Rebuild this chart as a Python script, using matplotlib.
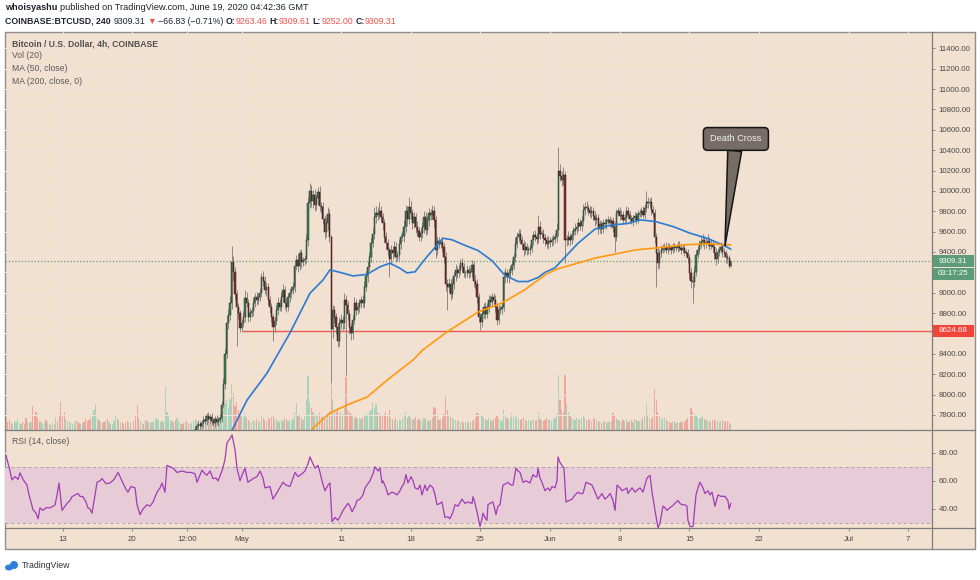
import numpy as np
import pandas as pd
import matplotlib
matplotlib.use("Agg")
import matplotlib.pyplot as plt
import matplotlib.dates as mdates
from matplotlib.patches import Rectangle, Ellipse
from matplotlib.lines import Line2D
from matplotlib.transforms import blended_transform_factory

plt.rcParams['font.family'] = ['Liberation Sans', 'DejaVu Sans']

# ---------------- data ----------------
candle_start = '2020-04-07 08:00'   # 4h candles
first_open = 7380.0
closes = [
    7330, 7270, 7210, 7180,                      # Apr 7
    7220, 7280, 7300, 7330, 7350, 7360,          # Apr 8
    7330, 7300, 7280, 7310, 7290, 7300,          # Apr 9
    7200, 7050, 6900, 6850, 6830, 6870,          # Apr 10
    6880, 6900, 6860, 6870, 6890, 6880,          # Apr 11
    6900, 6950, 7150, 7120, 6950, 6880,          # Apr 12
    6750, 6650, 6700, 6780, 6840, 6850,          # Apr 13
    6860, 6880, 6900, 6870, 6850, 6860,          # Apr 14
    6880, 6850, 6800, 6750, 6700, 6640,          # Apr 15
    6700, 6900, 7050, 7100, 7080, 7120,          # Apr 16
    7070, 7040, 7060, 7020, 7050, 7030,          # Apr 17
    7080, 7150, 7220, 7250, 7230, 7260,          # Apr 18
    7180, 7150, 7130, 7120, 7150, 7130,          # Apr 19
    7150, 7100, 6950, 6850, 6800, 6840,          # Apr 20
    6870, 6860, 6840, 6880, 6860, 6850,          # Apr 21
    6900, 6950, 7000, 7080, 7120, 7130,          # Apr 22
    7150, 7100, 7350, 7450, 7480, 7500,          # Apr 23
    7520, 7500, 7480, 7520, 7540, 7550,          # Apr 24
    7540, 7520, 7560, 7550, 7530, 7540,          # Apr 25
    7590, 7620, 7660, 7690, 7710, 7690,          # Apr 26
    7720, 7750, 7740, 7790, 7760, 7780,          # Apr 27
    7740, 7720, 7760, 7730, 7750, 7770,          # Apr 28
    7900, 8100, 8400, 8700, 8780, 8900,          # Apr 29
    9300, 9200, 8990, 8860, 8800, 8650,          # Apr 30
    8700, 8760, 8950, 8900, 8760, 8800,          # May 1
    8820, 8900, 8960, 8930, 8960, 8995,          # May 2
    9155, 9120, 9025, 9060, 8930, 8860,          # May 3
    8760, 8660, 8720, 8830, 8900, 8860,          # May 4
    8960, 9025, 8900, 8860, 8960, 8995,          # May 5
    9030, 9060, 9260, 9320, 9260, 9390,          # May 6
    9300, 9320, 9330, 9520, 9880, 10000,         # May 7
    9900, 9960, 9860, 9930, 9990, 9850,          # May 8
    9840, 9720, 9600, 9680, 9770, 9550,          # May 9
    8640, 8830, 8760, 8660, 8530, 8700,          # May 10
    8730, 8700, 8930, 8880, 8790, 8660,          # May 11
    8600, 8730, 8900, 8830, 8860, 8900,          # May 12
    8930, 8900, 9060, 9160, 9250, 9350,          # May 13
    9490, 9580, 9740, 9780, 9760, 9800,          # May 14
    9740, 9680, 9550, 9490, 9420, 9330,          # May 15
    9420, 9390, 9450, 9350, 9370, 9480,          # May 16
    9550, 9560, 9650, 9800, 9720, 9840,          # May 17
    9780, 9680, 9740, 9650, 9610, 9550,          # May 18
    9590, 9650, 9740, 9620, 9710, 9780,          # May 19
    9760, 9800, 9710, 9420, 9510, 9480,          # May 20
    9500, 9450, 9350, 9090, 9060, 9090,          # May 21
    8990, 9090, 9160, 9220, 9190, 9220,          # May 22
    9290, 9250, 9190, 9190, 9220, 9190,          # May 23
    9200, 9270, 9120, 9090, 8960, 8760,          # May 24
    8710, 8790, 8860, 8790, 8860, 8930,          # May 25
    8910, 8960, 8930, 8860, 8730, 8830,          # May 26
    8840, 8860, 9150, 9190, 9150, 9190,          # May 27
    9220, 9270, 9350, 9480, 9550, 9580,          # May 28
    9520, 9480, 9420, 9450, 9420, 9420,          # May 29
    9440, 9520, 9570, 9550, 9530, 9650,          # May 30
    9580, 9580, 9540, 9520, 9480, 9510,          # May 31
    9500, 9520, 9530, 9550, 9620, 10200,         # Jun 1
    10150, 10110, 10160, 9520, 9520, 9550,       # Jun 2
    9520, 9570, 9610, 9630, 9650, 9680,          # Jun 3
    9660, 9700, 9810, 9840, 9830, 9810,          # Jun 4
    9780, 9800, 9750, 9710, 9730, 9630,          # Jun 5
    9670, 9630, 9680, 9670, 9700, 9710,          # Jun 6
    9680, 9700, 9650, 9550, 9780, 9800,          # Jun 7
    9750, 9760, 9710, 9730, 9800, 9760,          # Jun 8
    9720, 9700, 9730, 9750, 9710, 9770,          # Jun 9
    9780, 9800, 9760, 9830, 9890, 9880,          # Jun 10
    9890, 9810, 9780, 9550, 9390, 9290,          # Jun 11
    9390, 9420, 9440, 9450, 9420, 9450,          # Jun 12
    9440, 9420, 9450, 9440, 9440, 9470,          # Jun 13
    9440, 9420, 9440, 9400, 9390, 9340,          # Jun 14
    9190, 9120, 9110, 9200, 9370, 9420,          # Jun 15
    9470, 9500, 9520, 9480, 9490, 9510,          # Jun 16
    9460, 9480, 9450, 9390, 9330, 9400,          # Jun 17
    9420, 9450, 9400, 9390, 9350, 9340,          # Jun 18
    9263.46, 9309.31,                            # Jun 19
]
wick_up = [
    70, 40, 30, 40,
    30, 40, 35, 40, 30, 45,
    40, 30, 45, 30, 40, 30,
    30, 40, 50, 40, 60, 30,
    30, 45, 30, 40, 35, 30,
    30, 50, 70, 40, 40, 30,
    30, 40, 50, 30, 40, 35,
    40, 30, 35, 45, 30, 40,
    35, 40, 30, 30, 40, 30,
    40, 50, 60, 40, 50, 40,
    40, 30, 50, 40, 30, 40,
    30, 40, 50, 40, 50, 30,
    40, 30, 30, 40, 30, 40,
    40, 30, 40, 50, 30, 40,
    40, 30, 40, 30, 40, 30,
    30, 40, 30, 40, 30, 40,
    30, 40, 60, 50, 40, 30,
    40, 30, 40, 30, 40, 30,
    40, 30, 40, 30, 40, 30,
    30, 40, 30, 30, 40, 30,
    30, 40, 50, 30, 40, 30,
    40, 30, 30, 40, 30, 40,
    40, 60, 50, 80, 60, 70,
    160, 60, 50, 40, 40, 30,
    40, 60, 80, 60, 40, 50,
    40, 50, 40, 50, 40, 50,
    40, 60, 40, 50, 40, 40,
    40, 30, 40, 50, 60, 40,
    50, 60, 40, 50, 40, 50,
    40, 50, 60, 50, 60, 30,
    40, 30, 40, 60, 60, 80,
    60, 50, 60, 40, 50, 60,
    40, 50, 40, 60, 70, 50,
    20, 50, 40, 40, 40, 60,
    60, 40, 70, 50, 40, 40,
    40, 50, 60, 40, 50, 40,
    40, 50, 60, 50, 60, 50,
    60, 60, 100, 70, 60, 90,
    50, 40, 40, 50, 40, 30,
    50, 40, 60, 50, 40, 50,
    40, 50, 60, 60, 50, 100,
    60, 40, 50, 40, 50, 40,
    50, 40, 60, 50, 40, 50,
    40, 60, 50, 40, 50, 40,
    40, 50, 40, 50, 40, 50,
    40, 50, 40, 60, 40, 50,
    40, 50, 40, 30, 50, 40,
    40, 50, 40, 50, 40, 40,
    40, 50, 40, 50, 40, 50,
    50, 40, 40, 50, 40, 50,
    40, 50, 60, 50, 40, 50,
    40, 50, 40, 60, 50, 50,
    50, 40, 40, 50, 40, 40,
    40, 50, 40, 50, 40, 110,
    50, 40, 50, 40, 40, 50,
    40, 40, 50, 40, 60, 230,
    60, 50, 70, 40, 50, 60,
    40, 50, 40, 50, 40, 50,
    40, 50, 60, 50, 60, 40,
    40, 50, 40, 50, 40, 40,
    40, 30, 40, 40, 30, 40,
    40, 30, 40, 40, 40, 40,
    40, 50, 40, 40, 50, 40,
    40, 40, 30, 40, 40, 40,
    40, 40, 50, 40, 110, 50,
    40, 50, 40, 40, 40, 50,
    40, 50, 40, 40, 50, 40,
    40, 30, 40, 40, 30, 40,
    40, 30, 40, 40, 30, 40,
    40, 50, 40, 60, 50, 40,
    50, 60, 60, 40, 50, 70,
    40, 50, 40, 40, 50, 40,
    40, 50, 40, 40, 30, 40,
    30, 0.3,
]
wick_dn = [
    40, 30, 40, 30,
    30, 40, 30, 30, 40, 30,
    40, 30, 40, 30, 40, 30,
    40, 50, 60, 50, 40, 30,
    30, 40, 30, 40, 30, 40,
    30, 40, 30, 40, 50, 40,
    80, 60, 40, 30, 40, 30,
    30, 40, 30, 40, 30, 40,
    30, 40, 30, 40, 40, 50,
    40, 30, 40, 30, 40, 30,
    40, 30, 40, 30, 40, 30,
    30, 40, 30, 40, 30, 40,
    40, 30, 40, 30, 40, 30,
    30, 40, 50, 40, 50, 30,
    40, 30, 40, 30, 40, 30,
    30, 40, 30, 40, 30, 40,
    40, 50, 30, 40, 30, 40,
    40, 30, 40, 30, 40, 30,
    30, 40, 30, 40, 30, 40,
    40, 30, 40, 30, 40, 30,
    30, 40, 30, 40, 30, 40,
    40, 30, 40, 30, 40, 30,
    40, 30, 50, 40, 60, 50,
    60, 80, 60, 380, 60, 40,
    25, 40, 50, 40, 50, 40,
    40, 50, 40, 50, 40, 40,
    40, 50, 40, 60, 50, 60,
    50, 130, 50, 40, 50, 40,
    40, 50, 60, 50, 40, 50,
    50, 40, 50, 40, 60, 40,
    60, 40, 50, 40, 60, 50,
    60, 70, 60, 50, 60, 50,
    60, 50, 70, 50, 60, 50,
    525, 80, 60, 70, 60, 50,
    60, 70, 60, 690, 60, 70,
    60, 50, 40, 50, 40, 50,
    50, 40, 50, 40, 50, 40,
    50, 40, 50, 60, 50, 40,
    50, 60, 50, 60, 50, 180,
    50, 60, 40, 50, 40, 50,
    50, 40, 60, 50, 60, 50,
    60, 50, 40, 60, 50, 40,
    40, 50, 60, 50, 40, 50,
    50, 40, 60, 80, 50, 40,
    40, 50, 60, 70, 230, 50,
    60, 40, 50, 40, 50, 40,
    40, 50, 40, 50, 40, 50,
    40, 50, 60, 50, 60, 50,
    80, 50, 40, 50, 40, 50,
    40, 50, 40, 50, 50, 40,
    40, 50, 40, 50, 40, 50,
    40, 50, 40, 50, 40, 50,
    40, 50, 60, 40, 50, 40,
    50, 40, 50, 40, 50, 40,
    50, 40, 50, 60, 40, 50,
    50, 40, 50, 40, 50, 60,
    50, 60, 50, 230, 60, 50,
    50, 40, 50, 40, 50, 40,
    40, 50, 40, 50, 40, 50,
    40, 50, 40, 50, 40, 50,
    40, 50, 40, 30, 40, 30,
    30, 40, 50, 150, 40, 30,
    40, 30, 40, 30, 40, 30,
    40, 30, 40, 30, 40, 30,
    30, 40, 30, 40, 40, 50,
    40, 50, 40, 60, 330, 60,
    50, 40, 30, 40, 30, 40,
    30, 40, 30, 40, 30, 40,
    30, 40, 30, 40, 30, 50,
    60, 70, 210, 50, 40, 30,
    40, 30, 40, 50, 40, 30,
    40, 30, 50, 60, 60, 40,
    40, 30, 50, 40, 60, 50,
    20, 11.46,
]
volume = [   # hundreds of BTC
    12, 8, 10, 7,
    6, 9, 8, 11, 7, 6,
    8, 6, 12, 9, 7, 8,
    24, 14, 18, 12, 9, 8,
    6, 7, 10, 8, 6, 5,
    7, 6, 12, 9, 16, 28,
    14, 18, 11, 9, 8, 7,
    6, 8, 10, 9, 7, 6,
    7, 8, 11, 9, 10, 12,
    14, 20, 26, 12, 10, 8,
    7, 8, 9, 11, 8, 6,
    6, 9, 14, 12, 10, 7,
    8, 6, 7, 9, 8, 7,
    6, 9, 14, 25, 12, 9,
    7, 6, 10, 9, 8, 7,
    8, 9, 12, 11, 10, 8,
    9, 8, 43, 18, 14, 10,
    9, 8, 10, 12, 9, 7,
    6, 7, 8, 9, 7, 6,
    7, 9, 11, 10, 8, 7,
    8, 10, 12, 9, 11, 8,
    9, 8, 10, 9, 8, 10,
    15, 20, 26, 30, 22, 31,
    46, 37, 24, 28, 20, 15,
    14, 12, 16, 12, 10, 9,
    8, 10, 9, 11, 8, 9,
    14, 12, 10, 9, 12, 11,
    13, 16, 10, 11, 9, 8,
    10, 9, 12, 11, 9, 10,
    9, 11, 18, 27, 14, 16,
    12, 10, 14, 30, 54, 28,
    22, 18, 15, 16, 14, 17,
    13, 15, 12, 11, 14, 18,
    45, 30, 20, 18, 22, 16,
    18, 16, 22, 53, 20, 18,
    16, 14, 12, 13, 11, 12,
    11, 12, 14, 16, 15, 18,
    20, 28, 22, 26, 18, 16,
    14, 15, 16, 18, 14, 20,
    12, 11, 10, 12, 9, 11,
    10, 12, 14, 18, 12, 14,
    12, 10, 11, 13, 10, 11,
    10, 9, 12, 11, 10, 9,
    10, 12, 23, 22, 14, 10,
    11, 12, 16, 33, 20, 14,
    13, 12, 11, 10, 9, 10,
    8, 9, 7, 8, 9, 7,
    8, 9, 10, 12, 17, 16,
    20, 14, 12, 11, 10, 12,
    10, 9, 11, 12, 14, 11,
    10, 9, 20, 14, 12, 11,
    12, 17, 13, 14, 12, 11,
    10, 11, 12, 10, 9, 10,
    9, 10, 11, 9, 10, 18,
    11, 10, 9, 10, 12, 11,
    10, 9, 11, 12, 16, 56,
    30, 20, 18, 56, 26, 18,
    14, 12, 11, 10, 12, 11,
    10, 12, 14, 12, 10, 11,
    10, 9, 11, 12, 10, 9,
    8, 7, 8, 9, 7, 8,
    8, 9, 17, 14, 12, 10,
    9, 8, 10, 9, 11, 8,
    9, 10, 8, 11, 10, 9,
    9, 10, 12, 14, 27, 16,
    12, 11, 13, 41, 30, 18,
    14, 12, 11, 12, 10, 9,
    8, 7, 9, 8, 7, 8,
    7, 8, 9, 8, 10, 12,
    16, 22, 18, 14, 16, 12,
    11, 12, 15, 11, 10, 9,
    9, 8, 10, 11, 9, 10,
    8, 9, 10, 9, 8, 9,
    8, 6,
]

ref_date = '2020-04-13'   # indicator samples are (days after ref_date, value)
ma50_pts = [(16.83, 7610), (17.14, 7670), (18.54, 7945), (20.55, 8210), (22.86, 8605),
            (24.87, 8995), (26.18, 9125), (26.88, 9225), (27.89, 9200), (29.20, 9165),
            (30.60, 9180), (31.91, 9255), (32.91, 9290), (33.92, 9240), (34.62, 9195),
            (35.43, 9205), (36.43, 9330), (37.44, 9445), (38.24, 9535), (39.15, 9520),
            (40.45, 9465), (41.76, 9415), (43.17, 9315), (44.47, 9170), (45.78, 9110),
            (46.78, 9110), (47.79, 9150), (48.49, 9200), (49.50, 9245), (50.50, 9350),
            (51.81, 9485), (53.52, 9625), (55.23, 9665), (56.83, 9680), (58.04, 9715),
            (59.55, 9700), (61.36, 9650), (63.07, 9585), (64.77, 9535), (66.58, 9460),
            (67.17, 9427)]
ma200_pts = [(24.87, 7630), (25.18, 7670), (26.88, 7820), (28.89, 7910), (30.60, 7975),
             (32.61, 8140), (35.23, 8340), (36.23, 8440), (38.64, 8615), (41.76, 8810),
             (44.17, 8900), (46.48, 9030), (48.49, 9175), (49.50, 9225), (50.50, 9255),
             (53.52, 9340), (57.54, 9420), (60.05, 9443), (62.36, 9470), (64.77, 9480),
             (67.17, 9470)]
rsi_pts = [
    (-5.68, 78), (-5.38, 70), (-5.08, 60.7), (-4.77, 63), (-4.47, 61), (-4.27, 65.7),
    (-3.97, 61), (-3.57, 57), (-3.37, 50), (-3.17, 45), (-2.96, 39.4), (-2.66, 37),
    (-2.46, 33), (-2.26, 40.8), (-1.96, 39), (-1.66, 41), (-1.26, 40.8), (-0.95, 42),
    (-0.75, 43), (-0.55, 50), (-0.35, 58.5), (-0.05, 39), (0.25, 42), (0.45, 44),
    (0.75, 46), (0.95, 48.7), (1.26, 50), (1.56, 51), (1.76, 49), (2.06, 48.7),
    (2.36, 45), (2.56, 40.8), (2.76, 40), (2.96, 37), (3.27, 50), (3.47, 59),
    (3.77, 60), (3.97, 61.6), (4.37, 58), (4.77, 58.5), (5.18, 61), (5.58, 66),
    (5.78, 63), (6.08, 58.5), (6.38, 54), (6.58, 52), (6.88, 56), (7.29, 55),
    (7.49, 43), (7.79, 36), (8.09, 40), (8.49, 43), (8.79, 42), (9.10, 45),
    (9.50, 52), (9.80, 55), (10.00, 58.5), (10.30, 52), (10.50, 71), (10.80, 70),
    (11.11, 69), (11.51, 66), (12.01, 67), (12.51, 66), (12.91, 66), (13.32, 65),
    (13.52, 59), (14.02, 67.6), (14.32, 65), (14.52, 64), (14.82, 67), (15.13, 61.6),
    (15.43, 62), (15.63, 60), (16.03, 67), (16.33, 75), (16.53, 87), (16.83, 90),
    (17.04, 92.6), (17.34, 82), (17.54, 69), (17.84, 60), (18.04, 64), (18.34, 69),
    (18.64, 59), (19.15, 61.6), (19.55, 63), (19.85, 67), (20.15, 62), (20.35, 55),
    (20.85, 56), (21.16, 47), (21.66, 53), (22.16, 59), (22.46, 57), (22.86, 56),
    (23.37, 66), (23.67, 63), (24.07, 65), (24.37, 67), (24.67, 72), (24.87, 77),
    (25.18, 72), (25.38, 69), (25.68, 71), (25.88, 66), (26.08, 60), (26.38, 53),
    (26.68, 57), (26.88, 58.5), (27.09, 31), (27.39, 34), (27.69, 32), (27.99, 36),
    (28.19, 39), (28.69, 44), (28.89, 42), (29.10, 38), (29.40, 42), (29.60, 46),
    (29.90, 47), (30.20, 50), (30.40, 55), (30.60, 57), (30.90, 60), (31.21, 65),
    (31.41, 70), (31.61, 68), (31.71, 67), (31.91, 69), (32.11, 58.5), (32.21, 60),
    (32.51, 55), (32.71, 50), (32.91, 51), (33.12, 52), (33.42, 51), (33.62, 50),
    (33.92, 53), (34.12, 56), (34.32, 58), (34.52, 64.5), (34.72, 58.5), (35.03, 63),
    (35.23, 60), (35.43, 55), (35.73, 54), (35.93, 57), (36.13, 50), (36.43, 57),
    (36.63, 53), (36.93, 57), (37.24, 55), (37.44, 50), (37.64, 43), (37.94, 44),
    (38.14, 45), (38.44, 34), (38.74, 34.5), (38.94, 33), (39.25, 38), (39.45, 43),
    (39.75, 42), (40.15, 47), (40.45, 44), (40.75, 45), (41.16, 44), (41.26, 48.7),
    (41.46, 44), (41.66, 38), (41.96, 27.5), (42.16, 33), (42.26, 37), (42.46, 34),
    (42.66, 32), (42.76, 43), (42.96, 44), (43.27, 45), (43.57, 36), (43.77, 42),
    (43.97, 43), (44.27, 57), (44.57, 58), (44.77, 59), (45.07, 57), (45.28, 57),
    (45.58, 69), (45.78, 67), (45.98, 66), (46.28, 59), (46.58, 60), (46.98, 58.5),
    (47.29, 64.5), (47.49, 63), (47.69, 63), (47.79, 69), (47.99, 62), (48.19, 59),
    (48.49, 53), (48.79, 55), (48.99, 53), (49.20, 56), (49.50, 55), (49.70, 60),
    (49.80, 77), (50.00, 73), (50.20, 71), (50.40, 69), (50.60, 45), (50.90, 46),
    (51.21, 47), (51.51, 50), (51.81, 52), (52.01, 51), (52.31, 51), (52.61, 59),
    (52.91, 58), (53.22, 57), (53.52, 52), (53.82, 47), (54.02, 49), (54.22, 51),
    (54.52, 47), (54.82, 49), (55.03, 51), (55.33, 46), (55.53, 39), (55.73, 57),
    (56.03, 55), (56.23, 53), (56.53, 54), (56.73, 55), (56.83, 51), (57.24, 55),
    (57.54, 52), (57.84, 54), (58.04, 55), (58.34, 52), (58.54, 57), (58.74, 62),
    (59.05, 64), (59.25, 52), (59.55, 39), (59.85, 26.5), (60.05, 30), (60.35, 42),
    (60.55, 41), (60.75, 39), (61.06, 41), (61.26, 42), (61.56, 44), (61.86, 46),
    (62.06, 44), (62.26, 43), (62.56, 43), (62.76, 42), (62.86, 32), (63.07, 27.5),
    (63.37, 27.5), (63.67, 50), (63.87, 55), (64.07, 59), (64.37, 55), (64.57, 51),
    (64.87, 53), (65.08, 50), (65.28, 52), (65.58, 42), (65.88, 50), (66.18, 49),
    (66.58, 49), (66.88, 46), (67.00, 40), (67.17, 44),
]

last_price = 9309.31
countdown = '03:17:25'
support_price = 8624.68
support_start = '2020-05-01 00:00'
cross_time = '2020-06-18 14:00'
cross_price = 9460
price_ticks = list(range(7800, 11401, 200))
hidden_price_labels = [8600, 9200]     # covered by the price boxes in the reference
rsi_ticks = [40, 60, 80]
x_tick_dates = ['2020-04-13', '2020-04-20', '2020-04-25 12:00', '2020-05-01', '2020-05-11',
                '2020-05-18', '2020-05-25', '2020-06-01', '2020-06-08', '2020-06-15',
                '2020-06-22', '2020-07-01', '2020-07-07']
x_tick_labels = ['13', '20', '12:00', 'May', '11', '18', '25', 'Jun', '8', '15', '22', 'Jul', '7']

# ---------------- styling ----------------
W, H = 980, 580
BG = '#f2e0d0'
GRID = '#ebe2da'
UP_BODY, UP_EDGE = '#3f7f58', '#1c3a28'
DN_BODY, DN_EDGE = '#7e3233', '#361414'
WICK = '#858080'
VOL_UP, VOL_DN = '#a9d2bb', '#f0a69b'
TXT = '#4a4a4a'

def fx(px):
    return px / W

def fy(py):
    return 1 - py / H

fig = plt.figure(figsize=(W / 100, H / 100), dpi=100)
fig.patch.set_facecolor('white')

# frame background
fig.add_artist(Rectangle((fx(5), fy(549)), fx(975) - fx(5), fy(32) - fy(549),
                         transform=fig.transFigure, fc=BG, ec='#8e8e8e', lw=1.0, zorder=-5))

ax = fig.add_axes([fx(5), fy(430), fx(932) - fx(5), fy(32) - fy(430)])
axr = fig.add_axes([fx(5), fy(528), fx(932) - fx(5), fy(430) - fy(528)], sharex=ax)
axv = ax.twinx()
ax.set_zorder(axv.get_zorder() + 1)
ax.patch.set_visible(False)
axr.patch.set_visible(False)

n = len(closes)
assert len(wick_up) == n and len(wick_dn) == n and len(volume) == n, (n, len(wick_up), len(wick_dn), len(volume))
times = pd.date_range(candle_start, periods=n, freq='4h')
x = mdates.date2num(times.to_pydatetime())
c = np.array(closes, float)
o = np.r_[first_open, c[:-1]]
hi = np.maximum(o, c) + np.array(wick_up, float)
lo = np.minimum(o, c) - np.array(wick_dn, float)
up = c >= o

base = mdates.date2num(pd.Timestamp(ref_date).to_pydatetime())
xl = (base - 5.78, base + 87.39)

# volume
axv.bar(x, volume, width=0.12, color=np.where(up, VOL_UP, VOL_DN), linewidth=0)
axv.set_ylim(0, 398)
axv.axis('off')

# grid
for tk in price_ticks:
    ax.axhline(tk, color=GRID, lw=0.8, zorder=0)
for tk in rsi_ticks:
    axr.axhline(tk, color=GRID, lw=0.8, zorder=0)
for d in x_tick_dates:
    xd = mdates.date2num(pd.Timestamp(d).to_pydatetime())
    ax.axvline(xd, color=GRID, lw=0.8, zorder=0)
    axr.axvline(xd, color=GRID, lw=0.8, zorder=0)

# candles
ax.vlines(x, lo, hi, color=WICK, lw=0.65, zorder=3)
body_h = np.maximum(np.abs(c - o), 8)
ax.bar(x, body_h, bottom=np.minimum(o, c), width=0.125,
       color=np.where(up, UP_BODY, DN_BODY), edgecolor=np.where(up, UP_EDGE, DN_EDGE),
       linewidth=0.35, zorder=4)

# moving averages
m50 = np.array(ma50_pts)
m200 = np.array(ma200_pts)
ax.plot(base + m50[:, 0], m50[:, 1], color='#2b7bd0', lw=1.2, zorder=5, solid_capstyle='round')
ax.plot(base + m200[:, 0], m200[:, 1], color='#ff9a10', lw=1.2, zorder=5, solid_capstyle='round')

# price lines
ax.axhline(last_price, color='#5e9e7b', lw=0.9, ls=(0, (1, 1.6)), zorder=2)
xs = mdates.date2num(pd.Timestamp(support_start).to_pydatetime())
ax.hlines(support_price, xs, xl[1], color='#ef5a4f', lw=1.0, zorder=2)

ax.set_xlim(*xl)
ax.set_ylim(7652.3, 11560)

# right price axis
ax.yaxis.tick_right()
ax.set_yticks(price_ticks)
ax.set_yticklabels(['' if t in hidden_price_labels else f'{t:.2f}' for t in price_ticks])
ax.tick_params(axis='y', which='both', right=True, left=False, length=2.5, width=0.6,
               pad=2.2, labelsize=5.7, colors='#7a7a7a', labelcolor=TXT)
ax.tick_params(axis='x', bottom=False, labelbottom=False, top=False)
for s in ax.spines.values():
    s.set_visible(False)

# price label boxes on the axis
btr = blended_transform_factory(ax.transAxes, ax.transData)
ax_w_px = 932 - 5
px_per_usd = 398 / (11560 - 7652.3)

def axis_box(yc, text, color):
    h = 12 / px_per_usd
    ax.add_patch(Rectangle((1.0, yc - h / 2), 42 / ax_w_px, h, transform=btr,
                           fc=color, ec='none', clip_on=False, zorder=10))
    ax.text(1.0 + 21 / ax_w_px, yc, text, transform=btr, ha='center', va='center',
            fontsize=5.7, color='white', zorder=11, clip_on=False)

axis_box(last_price, f'{last_price:.2f}', '#5c9c79')
axis_box(last_price - 12.6 / px_per_usd, countdown, '#5c9c79')
axis_box(support_price, f'{support_price:.2f}', '#f2453a')

# RSI pane
rp = np.array(rsi_pts)
axr.axhspan(30, 70, color='#e7cbd6', lw=0, zorder=0.5)
axr.axhline(70, color='#a7a3a6', lw=0.7, ls=(0, (3, 3)), zorder=1)
axr.axhline(30, color='#a7a3a6', lw=0.7, ls=(0, (3, 3)), zorder=1)
axr.plot(base + rp[:, 0], rp[:, 1], color='#a03cb6', lw=0.9, zorder=3)
axr.set_ylim(26.5, 96.13)
axr.yaxis.tick_right()
axr.set_yticks(rsi_ticks)
axr.set_yticklabels([f'{t:.2f}' for t in rsi_ticks])
axr.tick_params(axis='y', which='both', right=True, left=False, length=2.5, width=0.6,
                pad=2.2, labelsize=5.7, colors='#7a7a7a', labelcolor=TXT)
xt = [mdates.date2num(pd.Timestamp(d).to_pydatetime()) for d in x_tick_dates]
axr.set_xticks(xt)
axr.set_xticklabels(x_tick_labels)
axr.tick_params(axis='x', bottom=True, length=2.5, width=0.6, pad=3.5, labelsize=5.7,
                colors='#7a7a7a', labelcolor=TXT)
for s in axr.spines.values():
    s.set_visible(False)
axr.set_xlim(*xl)

# separators
for (x0, y0, x1, y1) in [(932, 32, 932, 549), (5, 430, 975, 430), (5, 528, 975, 528)]:
    fig.add_artist(Line2D([fx(x0), fx(x1)], [fy(y0), fy(y1)], transform=fig.transFigure,
                          color='#7d7d7d', lw=0.9, zorder=20))

# Death Cross callout
cx = mdates.date2num(pd.Timestamp(cross_time).to_pydatetime())
tx = base + 67.68
ax.annotate('Death Cross', xy=(cx, cross_price), xytext=(tx, 10510), textcoords='data',
            ha='center', va='center', fontsize=6.6, color='#f4f1ee', zorder=12,
            bbox=dict(boxstyle='round,pad=0.75,rounding_size=0.45', fc='#766d66', ec='#151515', lw=1.1),
            arrowprops=dict(arrowstyle='wedge,tail_width=1.0,shrink_factor=0.5', fc='#766d66',
                            ec='#151515', lw=1.1, mutation_scale=10, shrinkA=0, shrinkB=0),
            annotation_clip=False)

# ---------------- texts ----------------
renderer = fig.canvas.get_renderer()

def rich_line(x_px, y_px, parts, size):
    xcur = x_px
    for text, color, weight, gap in parts:
        t = fig.text(fx(xcur), fy(y_px), text, color=color, fontsize=size, fontweight=weight,
                     ha='left', va='center')
        bb = t.get_window_extent(renderer)
        xcur += bb.width + gap

DARK = '#1e222d'
RED = '#f0524c'
rich_line(5, 8, [('whoisyashu', DARK, 'bold', 3),
                 ('published on TradingView.com, June 19, 2020 04:42:36 GMT', DARK, 'normal', 0)], 6.6)
rich_line(5, 21, [('COINBASE:BTCUSD, 240', DARK, 'bold', 3),
                  ('9309.31', DARK, 'normal', 2),
                  ('▼', RED, 'normal', 1.5),
                  ('−66.83 (−0.71%)', DARK, 'normal', 2.5),
                  ('O:', DARK, 'bold', 0.3), ('9263.46', RED, 'normal', 2),
                  ('H:', DARK, 'bold', 0.3), ('9309.61', RED, 'normal', 2),
                  ('L:', DARK, 'bold', 0.3), ('9252.00', RED, 'normal', 2),
                  ('C:', DARK, 'bold', 0.3), ('9309.31', RED, 'normal', 0)], 6.35)

fig.text(fx(12), fy(43.5), 'Bitcoin / U.S. Dollar, 4h, COINBASE', fontsize=6.2, fontweight='bold',
         color='#505050', ha='left', va='center')
for yy, s in [(56, 'Vol (20)'), (68.5, 'MA (50, close)'), (81, 'MA (200, close, 0)')]:
    fig.text(fx(12), fy(yy), s, fontsize=6.2, color='#5a5a5a', ha='left', va='center')
fig.text(fx(12), fy(442), 'RSI (14, close)', fontsize=6.2, color='#5a5a5a', ha='left', va='center')

# TradingView logo
for (ex, ey, ew, eh) in [(9, 567.5, 8, 6), (14, 565, 8, 8)]:
    fig.add_artist(Ellipse((fx(ex), fy(ey)), ew / W, eh / H, transform=fig.transFigure,
                           fc='#2e7fd9', ec='none'))
fig.text(fx(22), fy(566), 'TradingView', fontsize=6.3, color='#333333', ha='left', va='center')

fig.savefig('out.png', dpi=100, facecolor='white')
